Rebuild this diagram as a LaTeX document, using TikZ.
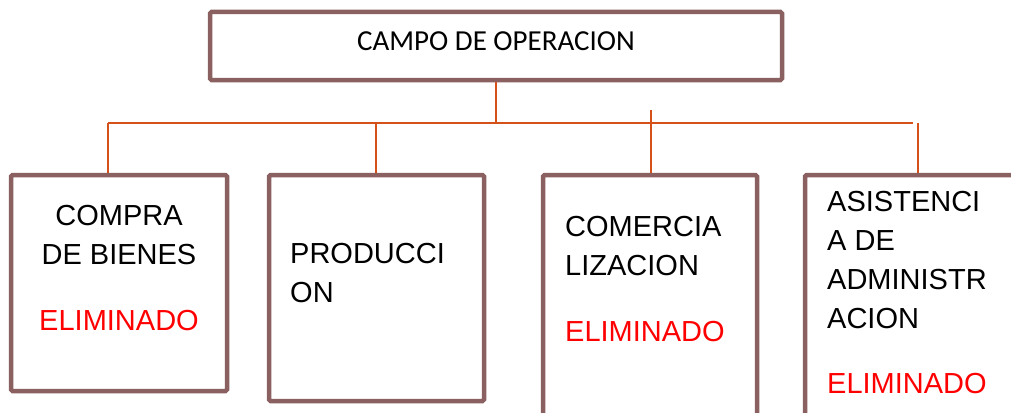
\documentclass[tikz,border=0pt]{standalone}
\usepackage{fontspec}
\setmainfont{Liberation Sans}
\newfontfamily\titlefont{Carlito}
\usetikzlibrary{positioning}
\definecolor{boxbrown}{RGB}{139,96,96}
\definecolor{linkor}{RGB}{214,80,26}
\definecolor{elimred}{RGB}{255,0,0}
\tikzstyle{unit} = [rectangle, rounded corners=1.5pt, draw=boxbrown, line width=4.5pt, fill=white]
\tikzstyle{label} = [inner sep=0pt, font=\fontsize{29}{39}\selectfont]
\tikzstyle{elim} = [label, text=elimred, anchor=base west]
\tikzstyle{link} = [draw=linkor, line width=2pt]

\begin{document}
\begin{tikzpicture}
[x=1pt, y=-1pt]
\useasboundingbox (0,0) rectangle (1011,412);
\clip (0,0) rectangle (1011,412);

% points on the bus line
\coordinate (bus1) at (108,123);
\coordinate (bus2) at (376,123);
\coordinate (bus3) at (651,123);
\coordinate (bus4) at (918,123);
\coordinate (busend) at (913,123);
\coordinate (bus3top) at (651,110);

\node (top) [unit, minimum width=572pt, minimum height=68pt] at (496,46) {};
\node (compra) [unit, minimum width=216pt, minimum height=216pt] at (119,283) {};
\node (produccion) [unit, minimum width=215pt, minimum height=226pt] at (376.5,288) {};
\node (comercia) [unit, minimum width=214pt, minimum height=265pt] at (650,307.5) {};
\node (asist) [unit, minimum width=225pt, minimum height=265pt] at (917.5,307.5) {};

\draw [link] (top.south) -- (top.south |- bus1);
\draw [link] (bus1) -- (busend);
\draw [link] (bus1) -- (bus1 |- compra.north);
\draw [link] (bus2) -- (bus2 |- produccion.north);
\draw [link] (bus3top) -- (bus3 |- comercia.north);
\draw [link] (bus4) -- (bus4 |- asist.north);

% texts
\node (toptext) [inner sep=0pt, font=\titlefont\fontsize{29}{35}\selectfont, anchor=base] at (496,51) {CAMPO DE OPERACION};

\node (compratext) [label, align=center, anchor=north] at (119,205) {COMPRA\\DE BIENES};
\node (compraelim) [label, text=elimred, anchor=base] at (119,330) {ELIMINADO};

\node (prodtext) [label, align=left, anchor=north west] at (290,243) {PRODUCCI\\ON};

\node (comtext) [label, align=left, anchor=north west] at (565,216) {COMERCIA\\LIZACION};
\node (comelim) [elim] at (565,341) {ELIMINADO};

\node (asisttext) [label, align=left, anchor=north west] at (827,191) {ASISTENCI\\A DE\\ADMINISTR\\ACION};
\node (asistelim) [elim] at (827,393) {ELIMINADO};
\end{tikzpicture}
\end{document}
